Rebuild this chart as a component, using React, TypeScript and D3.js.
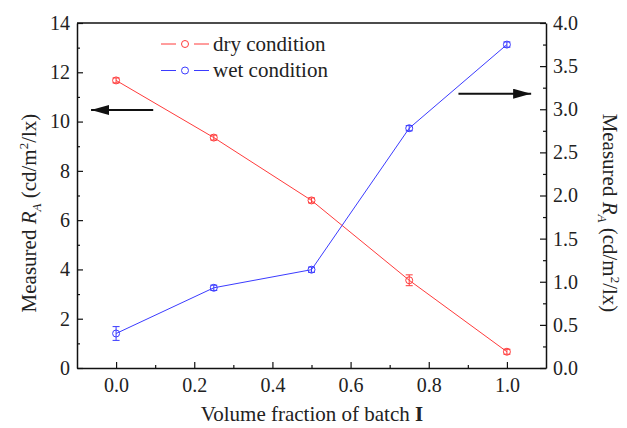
import React, { useRef, useEffect } from "react";
import * as d3 from "d3";

// volume fraction of batch I
const fractions = [0, 0.25, 0.5, 0.75, 1.0];
// dry condition, left axis (cd/m2/lx)
const dryValues = [11.67, 9.35, 6.8, 3.56, 0.66];
const dryErrors = [0.1, 0.1, 0.1, 0.22, 0.1];
// wet condition, right axis (cd/m2/lx)
const wetValues = [0.4, 0.93, 1.14, 2.78, 3.75];
const wetErrors = [0.08, 0.03, 0.03, 0.03, 0.03];

const xTicks = [0, 0.2, 0.4, 0.6, 0.8, 1.0];
const xMinor = [0.1, 0.3, 0.5, 0.7, 0.9];
const leftTicks = [0, 2, 4, 6, 8, 10, 12, 14];
const leftMinor = [1, 3, 5, 7, 9, 11, 13];
const rightTicks = [0, 0.5, 1, 1.5, 2, 2.5, 3, 3.5, 4];
const rightMinor = [0.25, 0.75, 1.25, 1.75, 2.25, 2.75, 3.25, 3.75];

const seriesNames = ["dry condition", "wet condition"];
const RED = "#ff3b3b";
const BLUE = "#3b3bff";

export default function App() {
    const svgRef = useRef(null);

    const W = 627, H = 428;
    const margin = { top: 23, right: 81, bottom: 60, left: 77 };
    const width = W - margin.left - margin.right;
    const height = H - margin.top - margin.bottom;

    useEffect(() => {
        d3.select(svgRef.current).selectAll("*").remove();
        const svg = d3.select(svgRef.current)
            .append("g")
            .attr("transform", "translate(" + margin.left + "," + margin.top + ")");

        const x = d3.scaleLinear().domain([-0.1, 1.1]).range([0, width]);
        const yL = d3.scaleLinear().domain([0, 14]).range([height, 0]);
        const yR = d3.scaleLinear().domain([0, 4]).range([height, 0]);

        const font = "'Liberation Serif', 'Times New Roman', serif";

        // bottom axis
        const gx = svg.append("g").attr("transform", "translate(0," + height + ")")
            .call(d3.axisBottom(x).tickValues(xTicks).tickFormat(d3.format(".1f"))
                .tickSizeInner(-6).tickSizeOuter(0).tickPadding(10));
        svg.append("g").attr("transform", "translate(0," + height + ")")
            .call(d3.axisBottom(x).tickValues(xMinor).tickFormat(() => "")
                .tickSizeInner(-3).tickSizeOuter(0))
            .select(".domain").remove();

        // left axis
        const gl = svg.append("g")
            .call(d3.axisLeft(yL).tickValues(leftTicks).tickFormat(d3.format("d"))
                .tickSizeInner(-6).tickSizeOuter(0).tickPadding(7));
        svg.append("g")
            .call(d3.axisLeft(yL).tickValues(leftMinor).tickFormat(() => "")
                .tickSizeInner(-3).tickSizeOuter(0))
            .select(".domain").remove();

        // right axis
        const gr = svg.append("g").attr("transform", "translate(" + width + ",0)")
            .call(d3.axisRight(yR).tickValues(rightTicks).tickFormat(d3.format(".1f"))
                .tickSizeInner(-6).tickSizeOuter(0).tickPadding(7));
        svg.append("g").attr("transform", "translate(" + width + ",0)")
            .call(d3.axisRight(yR).tickValues(rightMinor).tickFormat(() => "")
                .tickSizeInner(-3).tickSizeOuter(0))
            .select(".domain").remove();

        // top frame line
        svg.append("line")
            .attr("x1", 0).attr("x2", width).attr("y1", 0).attr("y2", 0)
            .attr("stroke", "#111").attr("stroke-width", 1.5);

        [gx, gl, gr].forEach(g => {
            g.selectAll("text").attr("font-family", font).attr("font-size", 20).attr("fill", "#222");
            g.select(".domain").attr("stroke", "#111").attr("stroke-width", 1.5);
            g.selectAll(".tick line").attr("stroke", "#111");
        });
        svg.selectAll(".tick line").attr("stroke", "#111").attr("stroke-width", 1.2);

        // series
        const drawSeries = (vals, errs, yScale, color) => {
            const pts = fractions.map((f, i) => ({ f, v: vals[i], e: errs[i] }));
            svg.append("path")
                .datum(pts)
                .attr("fill", "none")
                .attr("stroke", color)
                .attr("stroke-width", 1)
                .attr("d", d3.line().x(d => x(d.f)).y(d => yScale(d.v)));
            const g = svg.append("g").attr("stroke", color).attr("stroke-width", 1).attr("fill", "none");
            pts.forEach(d => {
                const cx = x(d.f);
                g.append("line").attr("x1", cx).attr("x2", cx)
                    .attr("y1", yScale(d.v - d.e)).attr("y2", yScale(d.v + d.e));
                [d.v - d.e, d.v + d.e].forEach(yy => {
                    g.append("line").attr("x1", cx - 3.5).attr("x2", cx + 3.5)
                        .attr("y1", yScale(yy)).attr("y2", yScale(yy));
                });
                g.append("circle").attr("cx", cx).attr("cy", yScale(d.v)).attr("r", 3.5);
            });
        };
        drawSeries(dryValues, dryErrors, yL, RED);
        drawSeries(wetValues, wetErrors, yR, BLUE);

        // legend
        const legend = svg.append("g").attr("transform", "translate(84,21)");
        [RED, BLUE].forEach((c, i) => {
            const ly = i * 26.5;
            legend.append("line").attr("x1", 0).attr("x2", 15).attr("y1", ly).attr("y2", ly)
                .attr("stroke", c).attr("stroke-width", 1);
            legend.append("line").attr("x1", 33).attr("x2", 48).attr("y1", ly).attr("y2", ly)
                .attr("stroke", c).attr("stroke-width", 1);
            legend.append("circle").attr("cx", 24).attr("cy", ly).attr("r", 3.5)
                .attr("fill", "none").attr("stroke", c).attr("stroke-width", 1);
            legend.append("text").attr("x", 52).attr("y", ly + 6.5)
                .attr("font-family", font).attr("font-size", 21).attr("fill", "#222")
                .text(seriesNames[i]);
        });

        // arrows
        svg.append("defs").append("marker")
            .attr("id", "ah").attr("viewBox", "0 0 18 10")
            .attr("refX", 18).attr("refY", 5)
            .attr("markerWidth", 18).attr("markerHeight", 10)
            .attr("markerUnits", "userSpaceOnUse")
            .attr("orient", "auto")
            .append("path").attr("d", "M0,0 L18,5 L0,10 Z").attr("fill", "#111");
        svg.append("line")
            .attr("x1", x(0.095)).attr("x2", x(-0.064))
            .attr("y1", yL(10.47)).attr("y2", yL(10.47))
            .attr("stroke", "#111").attr("stroke-width", 1.8)
            .attr("marker-end", "url(#ah)");
        svg.append("line")
            .attr("x1", x(0.876)).attr("x2", x(1.062))
            .attr("y1", yR(3.18)).attr("y2", yR(3.18))
            .attr("stroke", "#111").attr("stroke-width", 1.8)
            .attr("marker-end", "url(#ah)");

        // axis titles
        const root = d3.select(svgRef.current);
        const xt = root.append("text")
            .attr("x", 312).attr("y", 421)
            .attr("text-anchor", "middle")
            .attr("font-family", font).attr("font-size", 21).attr("fill", "#222");
        xt.append("tspan").text("Volume fraction of batch ");
        xt.append("tspan").attr("font-weight", "bold").text("I");

        const yTitle = (tx, ty, rot) => {
            const t = root.append("text")
                .attr("transform", "translate(" + tx + "," + ty + ") rotate(" + rot + ")")
                .attr("text-anchor", "middle")
                .attr("font-family", font).attr("font-size", 21).attr("fill", "#222");
            t.append("tspan").text("Measured ");
            t.append("tspan").attr("font-style", "italic").text("R");
            t.append("tspan").attr("font-style", "italic").attr("font-size", 13).attr("dy", 5).text("A");
            t.append("tspan").attr("dy", -5).text(" (cd/m");
            t.append("tspan").attr("font-size", 13).attr("dy", -8).text("2");
            t.append("tspan").attr("dy", 8).text("/lx)");
        };
        yTitle(36, 213, -90);
        yTitle(603, 213, 90);
    }, []);

    return (
        <div>
            <svg ref={svgRef} width={W} height={H}
                style={{ position: "absolute", left: 0, top: 0, background: "#fff" }} />
        </div>
    );
}
